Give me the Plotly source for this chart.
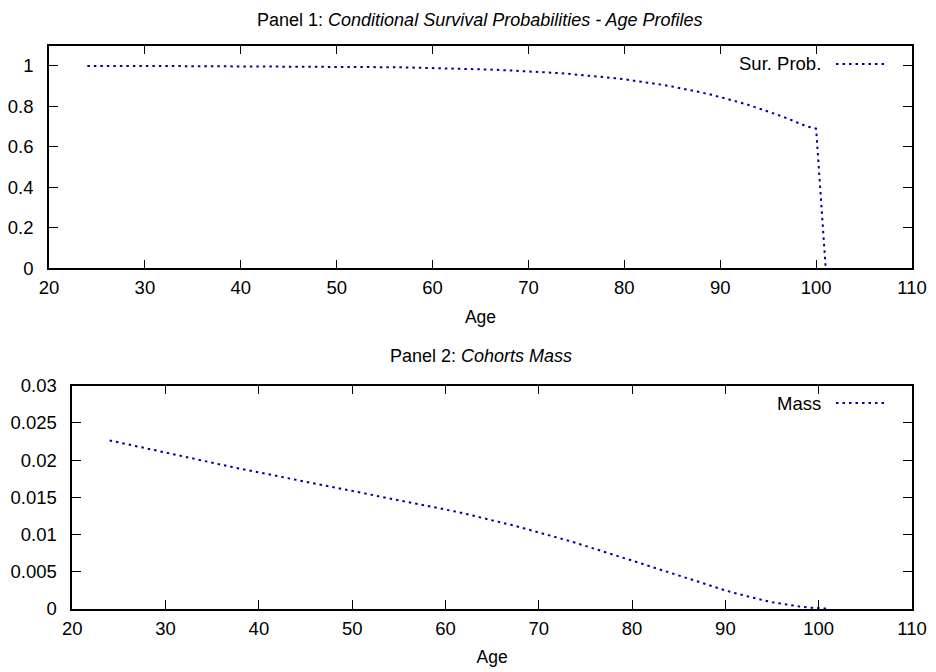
import plotly.graph_objects as go

# ---- data ----
ages = list(range(24, 102))
surv_prob = [
    1.000, 0.9995, 0.9995, 0.9995, 0.9994, 0.9994, 0.9993,   # 24-30
    0.9993, 0.9992, 0.9992, 0.9991, 0.9990, 0.9990, 0.9989, 0.9988, 0.9987, 0.9986,  # 31-40
    0.9985, 0.9984, 0.9982, 0.9981, 0.9979, 0.9977, 0.9975, 0.9972, 0.9969, 0.9966,  # 41-50
    0.9962, 0.9958, 0.9953, 0.9948, 0.9942, 0.9936, 0.9929, 0.9921, 0.9912, 0.9902,  # 51-60
    0.9891, 0.9879, 0.9866, 0.9852, 0.9837, 0.9820, 0.9802, 0.9782, 0.9760, 0.9736,  # 61-70
    0.9710, 0.9682, 0.9651, 0.9617, 0.9580, 0.9540, 0.9496, 0.9448, 0.9396, 0.9340,  # 71-80
    0.9279, 0.9213, 0.9142, 0.9065, 0.8982, 0.8893, 0.8797, 0.8694, 0.8584, 0.8466,  # 81-90
    0.8340, 0.8206, 0.8064, 0.7913, 0.7753, 0.7584, 0.7405, 0.7216, 0.7017, 0.6900,  # 91-100
    0.0,  # 101
]
mass = [
    0.02265, 0.02237, 0.02209, 0.02181, 0.02153, 0.02125, 0.02097,  # 24-30
    0.02070, 0.02043, 0.02016, 0.01989, 0.01963, 0.01937, 0.01911, 0.01885, 0.01860, 0.01835,  # 31-40
    0.01810, 0.01785, 0.01761, 0.01737, 0.01713, 0.01689, 0.01665, 0.01641, 0.01617, 0.01593,  # 41-50
    0.01569, 0.01545, 0.01520, 0.01495, 0.01470, 0.01445, 0.01419, 0.01393, 0.01366, 0.01339,  # 51-60
    0.01311, 0.01283, 0.01254, 0.01224, 0.01194, 0.01163, 0.01131, 0.01098, 0.01065, 0.01031,  # 61-70
    0.00996, 0.00960, 0.00924, 0.00887, 0.00849, 0.00811, 0.00772, 0.00732, 0.00692, 0.00652,  # 71-80
    0.00611, 0.00570, 0.00529, 0.00488, 0.00447, 0.00406, 0.00366, 0.00326, 0.00287, 0.00250,  # 81-90
    0.00214, 0.00180, 0.00148, 0.00119, 0.00092, 0.00069, 0.00049, 0.00032, 0.00019, 0.00010,  # 91-100
    0.00005,  # 101
]

x_ticks = [20, 30, 40, 50, 60, 70, 80, 90, 100, 110]
y1_ticks = [0, 0.2, 0.4, 0.6, 0.8, 1]
y1_labels = ["0", "0.2", "0.4", "0.6", "0.8", "1"]
y2_ticks = [0, 0.005, 0.01, 0.015, 0.02, 0.025, 0.03]
y2_labels = ["0", "0.005", "0.01", "0.015", "0.02", "0.025", "0.03"]

title1 = "Panel 1: <i>Conditional Survival Probabilities - Age Profiles</i>"
title2 = "Panel 2: <i>Cohorts Mass</i>"
name1 = "Sur. Prob."
name2 = "Mass"

LINE_COLOR = "#00009c"
FONT = "Liberation Sans, Arial, sans-serif"
FS_TICK = 18.5
FS_TITLE = 18
FS_AXT = 17.5
FS_LEG = 18.5
W, H = 936, 672
ML, MR, MT, MB = 30, 14, 10, 6
PW, PH = W - ML - MR, H - MT - MB

def dx(px):
    return (px - ML) / PW

def dy(py):
    return 1 - (py - MT) / PH

DASH = "2.5px,4px"

fig = go.Figure()
fig.add_trace(go.Scatter(x=ages, y=surv_prob, mode="lines", name=name1,
                         line=dict(color=LINE_COLOR, width=2, dash=DASH),
                         xaxis="x", yaxis="y", showlegend=False))
fig.add_trace(go.Scatter(x=ages, y=mass, mode="lines", name=name2,
                         line=dict(color=LINE_COLOR, width=2, dash=DASH),
                         xaxis="x2", yaxis="y2", showlegend=False))

axis_common = dict(showline=True, linecolor="black", linewidth=1.5, mirror="ticks",
                   ticks="inside", ticklen=9, tickwidth=1, tickcolor="black",
                   showgrid=False, zeroline=False, automargin=False,
                   tickfont=dict(family=FONT, size=FS_TICK, color="black"))
xaxis_extra = dict(ticklabelstandoff=2,
                   title=dict(text="Age", font=dict(family=FONT, size=FS_AXT), standoff=13))
yaxis_extra = dict(ticklabelstandoff=10)

# pixel geometry of the frames
p1 = dict(l=49, r=912, t=45.7, b=268.3)
p2 = dict(l=72.3, r=912, t=385.7, b=609)

fig.update_layout(
    width=W, height=H,
    margin=dict(l=ML, r=MR, t=MT, b=MB),
    paper_bgcolor="white", plot_bgcolor="white",
    font=dict(family=FONT, size=FS_TICK, color="black"),
    xaxis=dict(domain=[dx(p1["l"]), dx(p1["r"])], range=[20, 110], tickvals=x_ticks,
               anchor="y", **axis_common, **xaxis_extra),
    yaxis=dict(domain=[dy(p1["b"]), dy(p1["t"])], range=[0, 1.1],
               tickvals=y1_ticks, ticktext=y1_labels, anchor="x", **axis_common, **yaxis_extra),
    xaxis2=dict(domain=[dx(p2["l"]), dx(p2["r"])], range=[20, 110], tickvals=x_ticks,
                anchor="y2", **axis_common, **xaxis_extra),
    yaxis2=dict(domain=[dy(p2["b"]), dy(p2["t"])], range=[0, 0.03],
                tickvals=y2_ticks, ticktext=y2_labels, anchor="x2", **axis_common, **yaxis_extra),
)

# panel titles
fig.add_annotation(text=title1, x=dx(480), y=dy(20), xref="paper", yref="paper",
                   showarrow=False, xanchor="center", yanchor="middle",
                   font=dict(family=FONT, size=FS_TITLE))
fig.add_annotation(text=title2, x=dx(481), y=dy(356), xref="paper", yref="paper",
                   showarrow=False, xanchor="center", yanchor="middle",
                   font=dict(family=FONT, size=FS_TITLE))

# legends (text on the left, sample on the right, gnuplot style)
for (name, top) in [(name1, 64), (name2, 403)]:
    fig.add_annotation(text=name, x=dx(823), y=dy(top), xref="paper", yref="paper",
                       showarrow=False, xanchor="right", yanchor="middle",
                       font=dict(family=FONT, size=FS_LEG))
    fig.add_shape(type="line", xref="paper", yref="paper",
                  x0=dx(836), x1=dx(886), y0=dy(top), y1=dy(top),
                  line=dict(color=LINE_COLOR, width=2, dash=DASH))

fig.write_html("out.html")
